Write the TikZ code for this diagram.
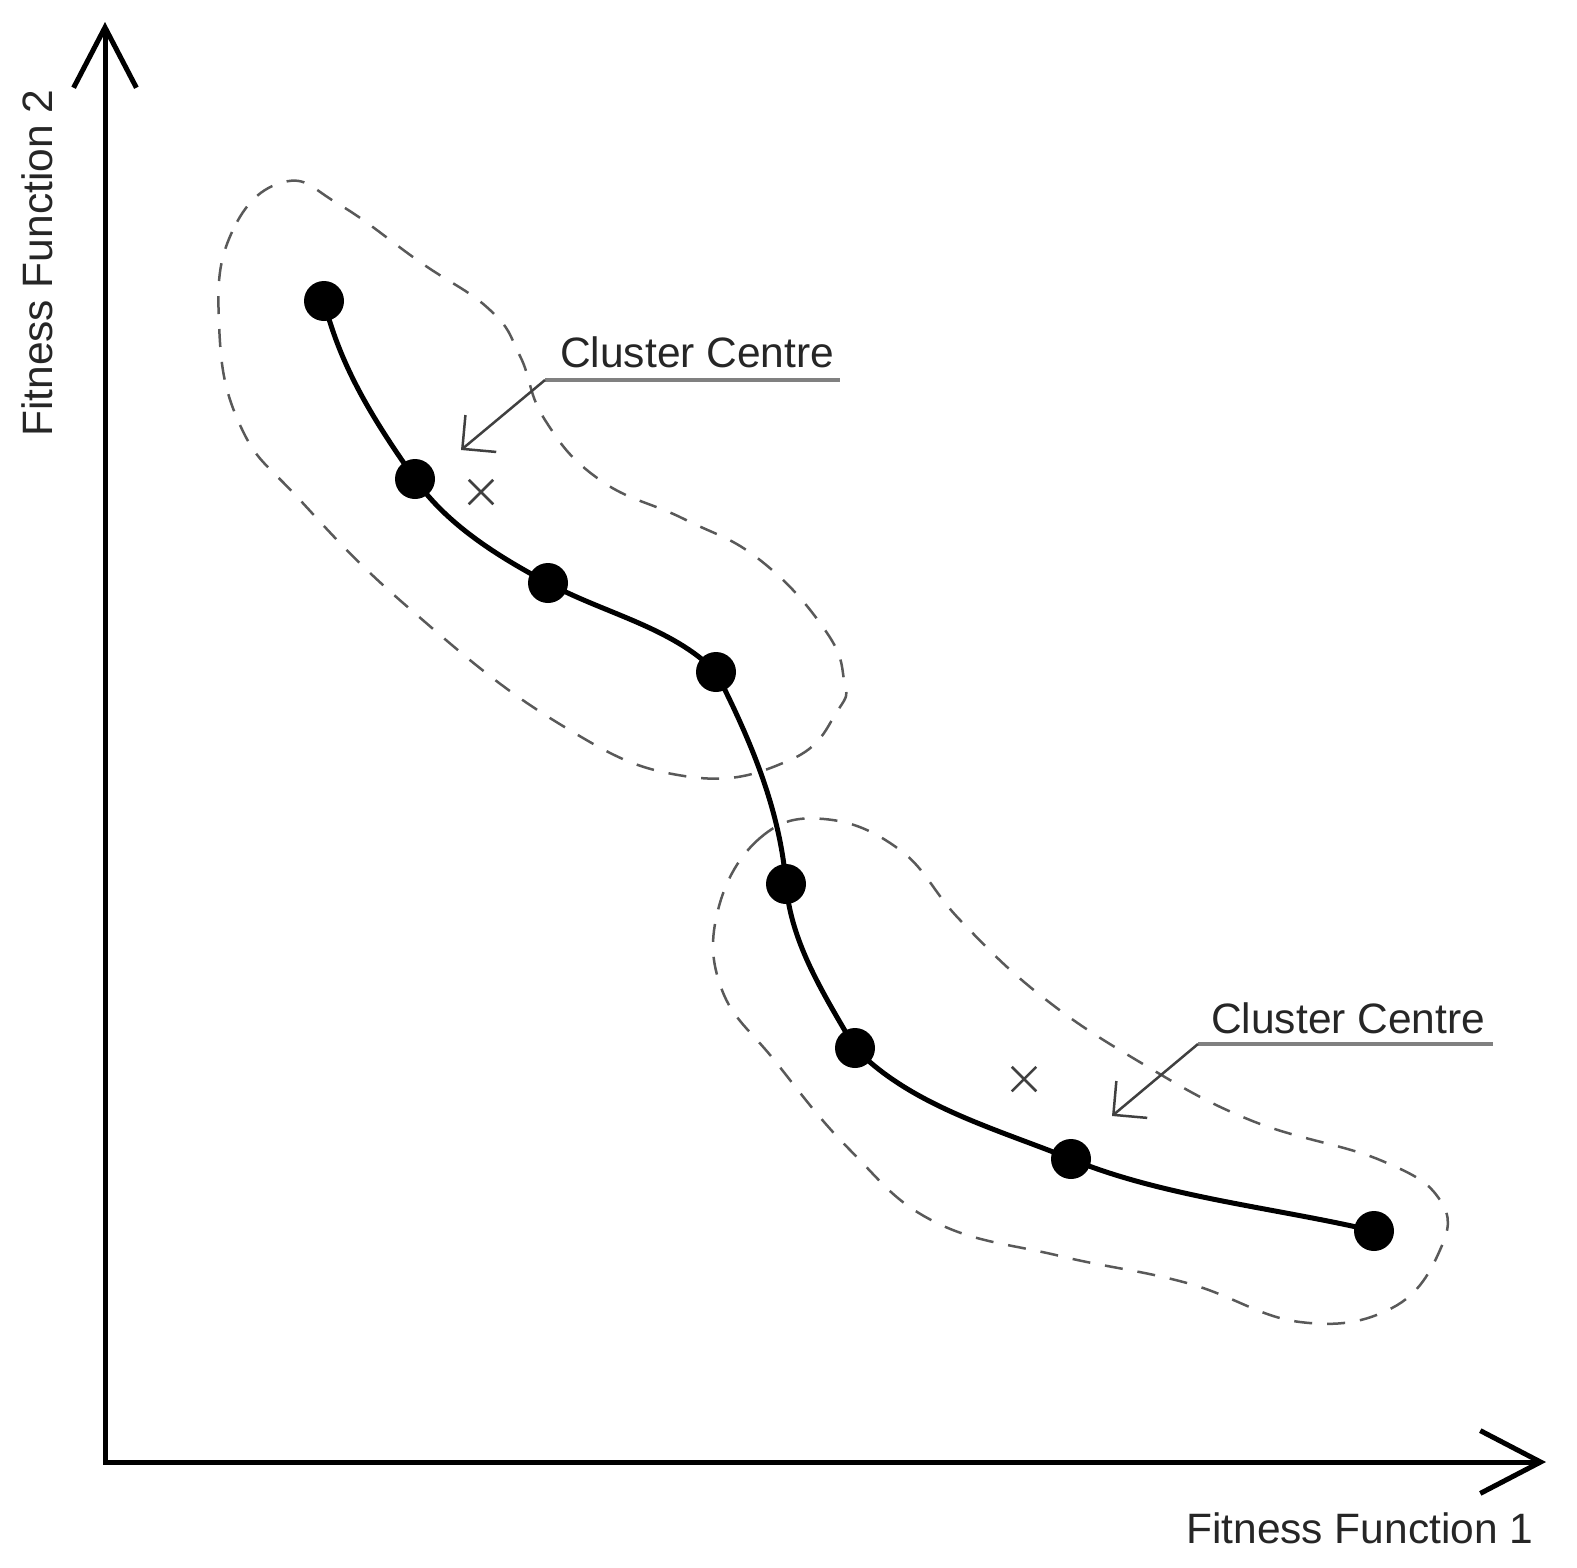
\documentclass[tikz,border=0pt]{standalone}
\usepackage{fontspec}
\setmainfont{Liberation Sans}
\usetikzlibrary{arrows.meta,shapes.misc}
\begin{document}
\begin{tikzpicture}[x=1pt,y=-1pt,
  axisline/.style={line width=5pt, line join=miter},
  curveline/.style={line width=5pt},
  dot/.style={circle, fill=black, minimum size=40pt, inner sep=0pt},
  blob/.style={line width=2.5pt, draw=black!65, dash pattern=on 18pt off 15pt},
  underline/.style={line width=4pt, draw=black!50},
  leader/.style={line width=2.5pt, draw=black!75, -{Straight Barb[angle=90:34pt, line width=2.5pt]}},
  centremark/.style={cross out, draw=black!75, line width=2.5pt, minimum size=22pt, inner sep=0pt},
  lbl/.style={inner sep=0pt, anchor=base west, font=\fontsize{42.5}{50}\selectfont, text=black!85}
]
\useasboundingbox (0,0) rectangle (1577,1567);

% axes
\coordinate (O) at (105,1462);
\coordinate (ytip) at (105,22);
\coordinate (xtip) at (1546,1462);
\draw[axisline, {Straight Barb[angle=55:68pt, line width=5pt]}-{Straight Barb[angle=55:68pt, line width=5pt]}] (ytip) -- (O) -- (xtip);
\node[lbl] (xlabel) at (1186,1543) {Fitness Function 1};
\node[lbl, rotate=90] (ylabel) at (52,437) {Fitness Function 2};

% cluster outlines
\draw[blob] plot[smooth cycle, tension=0.75] coordinates {
 (284,182) (232,232) (219,323) (240,425) (300,500) (410,609) (558,723)
 (684,776) (790,760) (838,710) (844,680) (825,630) (760,560) (684,519)
 (600,480) (545,420) (520,356) (490,310) (420,262) (340,205)};
\draw[blob] plot[smooth cycle, tension=0.7] coordinates {
 (824,819) (760,838) (718,910) (722,990) (775,1061) (850,1150) (935,1222)
 (1060,1256) (1187,1283) (1300,1322) (1392,1308) (1440,1250) (1440,1200)
 (1380,1160) (1250,1120) (1138,1061) (1040,995) (960,920) (900,850)};

% points
\node[dot] (d1) at (324,301) {};
\node[dot] (d2) at (415,479) {};
\node[dot] (d3) at (548,583) {};
\node[dot] (d4) at (716,672) {};
\node[dot] (d5) at (786,884) {};
\node[dot] (d6) at (855,1048) {};
\node[dot] (d7) at (1071,1159) {};
\node[dot] (d8) at (1374,1231) {};
\draw[curveline] (d1.center)
  .. controls (341,369) and (375,422) .. (d2.center)
  .. controls (447,525) and (499,557) .. (d3.center)
  .. controls (603,613) and (672,627) .. (d4.center)
  .. controls (750,739) and (780,809) .. (d5.center)
  .. controls (791,944) and (825,996) .. (d6.center)
  .. controls (911,1106) and (997,1129) .. (d7.center)
  .. controls (1163,1197) and (1277,1208) .. (d8.center);

% cluster centres
\node[centremark] (c1) at (481,492) {};
\node[centremark] (c2) at (1024,1079) {};

% labels
\node[lbl] (l1) at (560,367) {Cluster Centre};
\coordinate (u1s) at (545,380);
\coordinate (u1e) at (840,380);
\coordinate (t1) at (461,450);
\draw[underline] (u1s) -- (u1e);
\draw[leader] (u1s) -- (t1);

\node[lbl] (l2) at (1211,1033) {Cluster Centre};
\coordinate (u2s) at (1198,1044);
\coordinate (u2e) at (1493,1044);
\coordinate (t2) at (1112,1116);
\draw[underline] (u2s) -- (u2e);
\draw[leader] (u2s) -- (t2);
\end{tikzpicture}
\end{document}
